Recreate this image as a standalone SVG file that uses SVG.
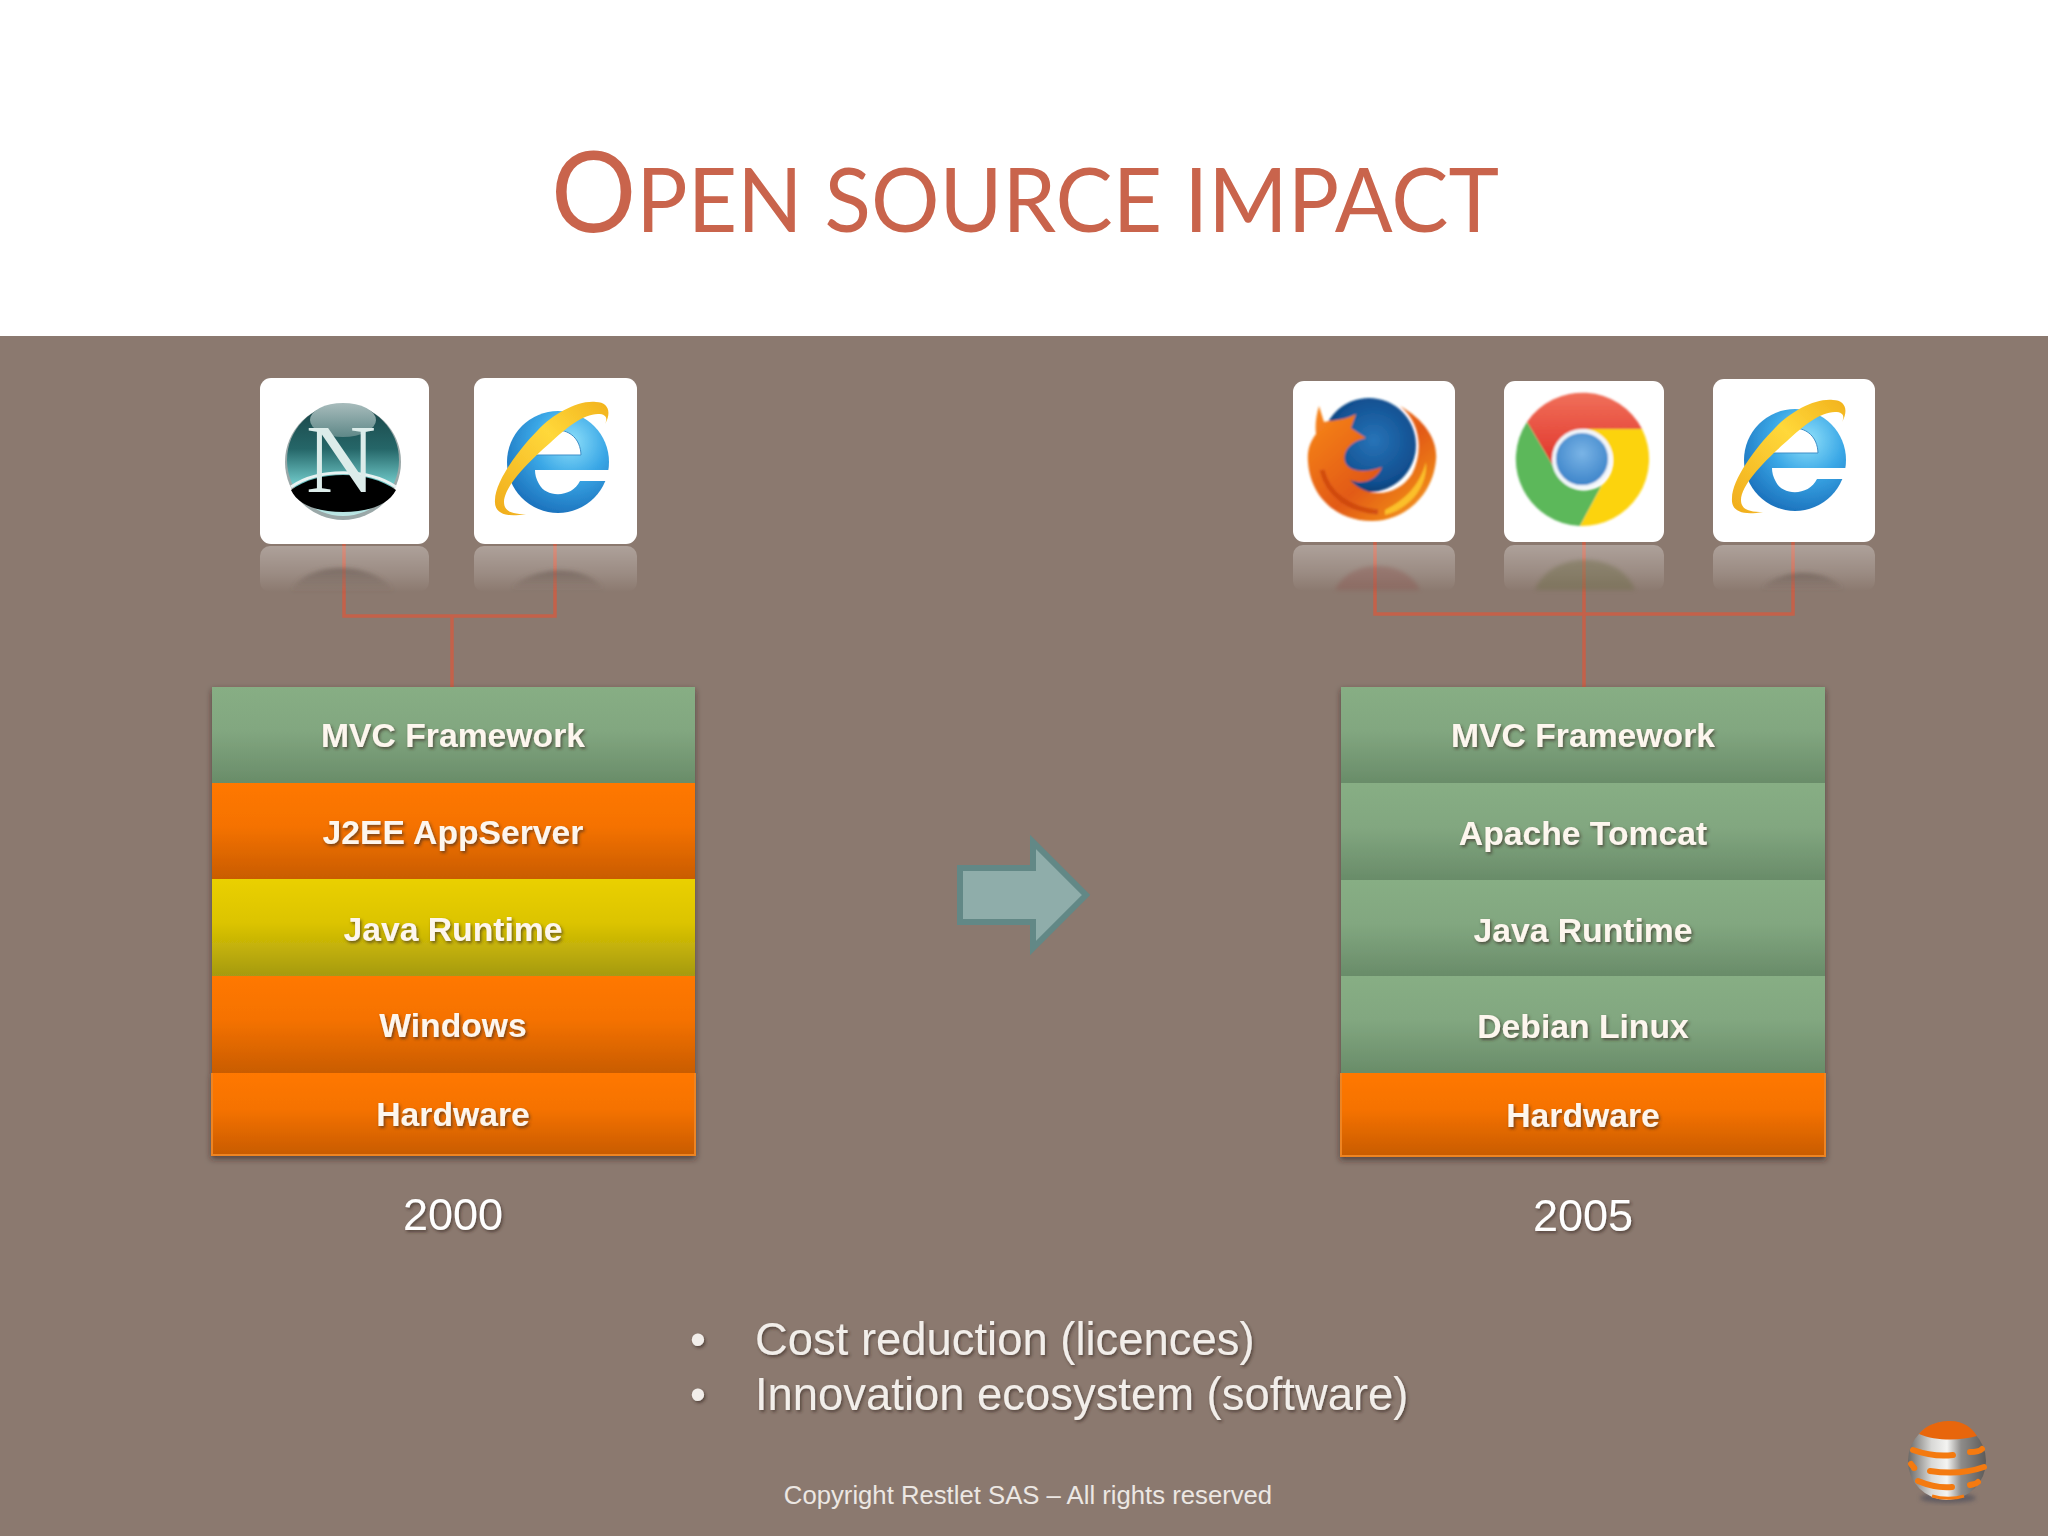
<svg xmlns="http://www.w3.org/2000/svg" xmlns:xlink="http://www.w3.org/1999/xlink" width="2048" height="1536" viewBox="0 0 2048 1536">
<style>
.row{font:bold 33.7px "Liberation Sans",Arial,sans-serif;fill:#fdf6ee;text-anchor:middle;filter:url(#ts)}
.year{font:45px "Liberation Sans",Arial,sans-serif;fill:#fff;text-anchor:middle;filter:url(#ts)}
.bul{font:45.4px "Liberation Sans",Arial,sans-serif;fill:#f2eeea;filter:url(#ts)}
.copy{font:25.7px "Liberation Sans",Arial,sans-serif;fill:#ece7e3;text-anchor:middle}
.title{font-family:Lato,"Open Sans",sans-serif;fill:#c9644c}
.conn{fill:none;stroke:#c4614a;stroke-width:3.500}
.card{fill:#fff}
.refl{fill:url(#rf)}
</style>
<defs>
<filter id="ts" x="-10%" y="-20%" width="120%" height="150%"><feDropShadow dx="1.5" dy="2" stdDeviation="1.5" flood-color="#3a2c22" flood-opacity=".65"/></filter>
<filter id="ss" x="-5%" y="-5%" width="110%" height="110%"><feDropShadow dx="0" dy="3" stdDeviation="3" flood-color="#2a201a" flood-opacity=".6"/></filter>
<filter id="bl" x="-30%" y="-50%" width="160%" height="200%"><feGaussianBlur stdDeviation="5"/></filter>
<filter id="b1" x="-10%" y="-10%" width="120%" height="120%"><feGaussianBlur stdDeviation="1"/></filter>
<filter id="b0" x="-10%" y="-10%" width="120%" height="120%"><feGaussianBlur stdDeviation=".6"/></filter>
<filter id="b2" x="-30%" y="-30%" width="160%" height="160%"><feGaussianBlur stdDeviation="2"/></filter>
<linearGradient id="rf" x1="0" y1="0" x2="0" y2="1"><stop offset="0" stop-color="#fff" stop-opacity=".3"/><stop offset=".6" stop-color="#fff" stop-opacity=".14"/><stop offset="1" stop-color="#fff" stop-opacity="0"/></linearGradient>
<linearGradient id="dome" x1="0" y1="0" x2="0" y2="1"><stop offset="0" stop-color="#5f5048" stop-opacity=".55"/><stop offset="1" stop-color="#5f5048" stop-opacity="0"/></linearGradient>
<linearGradient id="gr" x1="0" y1="0" x2="0" y2="1"><stop offset="0" stop-color="#87ae84"/><stop offset=".45" stop-color="#82a780"/><stop offset="1" stop-color="#698c69"/></linearGradient>
<linearGradient id="or" x1="0" y1="0" x2="0" y2="1"><stop offset="0" stop-color="#ff7800"/><stop offset=".45" stop-color="#f57200"/><stop offset="1" stop-color="#c95c02"/></linearGradient>
<linearGradient id="ye" x1="0" y1="0" x2="0" y2="1"><stop offset="0" stop-color="#ead000"/><stop offset=".45" stop-color="#dcc400"/><stop offset="1" stop-color="#a59a12"/></linearGradient>
<radialGradient id="ieb" cx=".62" cy=".3" r=".8"><stop offset="0" stop-color="#8fe0fa"/><stop offset=".45" stop-color="#3aa7e6"/><stop offset="1" stop-color="#1668b5"/></radialGradient>
<linearGradient id="iey" x1="1" y1="0" x2="0" y2="1"><stop offset="0" stop-color="#f2b21c"/><stop offset=".4" stop-color="#ffd83a"/><stop offset="1" stop-color="#f0ac1c"/></linearGradient>
<linearGradient id="nt" x1="0" y1="0" x2="0" y2="1"><stop offset="0" stop-color="#1a4446"/><stop offset=".4" stop-color="#256668"/><stop offset=".7" stop-color="#6cc4c4"/><stop offset="1" stop-color="#bfe8e6"/></linearGradient>
<linearGradient id="nb" x1="0" y1="0" x2="0" y2="1"><stop offset="0" stop-color="#a8bcbc"/><stop offset="1" stop-color="#5f8888"/></linearGradient>
<radialGradient id="ffg" cx=".55" cy=".45" r=".65"><stop offset="0" stop-color="#2874b8"/><stop offset=".7" stop-color="#114f90"/><stop offset="1" stop-color="#0b2f5c"/></radialGradient>
<linearGradient id="ffo" x1="0" y1="0" x2="1" y2="1"><stop offset="0" stop-color="#f98a1c"/><stop offset=".55" stop-color="#e25a14"/><stop offset="1" stop-color="#f7a21e"/></linearGradient>
<radialGradient id="cb" cx=".5" cy=".4" r=".6"><stop offset="0" stop-color="#7ab4e6"/><stop offset="1" stop-color="#3a82c8"/></radialGradient>
<linearGradient id="cr" x1="0" y1="0" x2="0" y2="1"><stop offset="0" stop-color="#f0705a"/><stop offset="1" stop-color="#e0332a"/></linearGradient>
<linearGradient id="sp" x1="0" y1="0" x2="1" y2="0"><stop offset="0" stop-color="#6a6866"/><stop offset=".3" stop-color="#d8d8d6"/><stop offset=".5" stop-color="#f4f4f2"/><stop offset=".68" stop-color="#8e8c8a"/><stop offset="1" stop-color="#5c5a58"/></linearGradient>
<symbol id="ie" overflow="visible" viewBox="-70 -70 140 140" width="140" height="140">
<circle cx="0" cy="0" r="51" fill="url(#ieb)"/>
<path d="M-23,-7 C-22,-40 22,-40 23,-7Z" fill="#fff" stroke="#3f8fc8" stroke-width="1"/>
<path d="M-23,8 H60 V19 H22 C14,36 -12,36 -19,22 C-22,17 -23,12 -23,8Z" fill="#fff"/>
<path d="M38,-60 C20,-62 -5,-48 -20,-32 C-40,-12 -63,20 -63,38 C-64,50 -55,56 -32,52 C-45,52 -54,50 -54,40 C-54,25 -30,0 -8,-19 C8,-34 25,-48 40,-48 C48,-48 50,-44 47,-38 C54,-50 50,-60 38,-60Z" fill="url(#iey)"/>
</symbol>
</defs>
<rect width="2048" height="1536" fill="#fff"/>
<rect y="336" width="2048" height="1200" fill="#8b796f"/>
<g id="title"><text class="title" x="551" y="232" font-size="112" textLength="948" lengthAdjust="spacingAndGlyphs">O<tspan font-size="90">PEN SOURCE IMPACT</tspan></text></g>

<g id="connectors">
<path class="conn" d="M344,544V616H555V544M452,616V687"/>
<path class="conn" d="M1375,542V614H1793V542M1584,542V687"/>
</g>

<g id="netscape">
<rect class="refl" x="260" y="546" width="169" height="46" rx="10"/>
<path d="M290,592 C305,560 375,560 395,592Z" fill="url(#dome)" filter="url(#b2)"/>
<rect class="card" x="260" y="378" width="169" height="166" rx="11"/>
<circle cx="343" cy="462" r="58" fill="#9aa8a8"/>
<circle cx="343" cy="460" r="56" fill="url(#nt)"/>
<ellipse cx="343" cy="420" rx="33" ry="17" fill="url(#nb)"/>
<path d="M291,490 C318,470 368,470 396,490 C388,506 366,512 343,512 C320,512 298,506 291,490Z" fill="#000"/>
<path d="M291,487 C318,468 368,468 396,487" fill="none" stroke="#e8f2f2" stroke-width="3"/>
<text x="341" y="492" font-family="Liberation Serif,serif" font-size="97" fill="#dcecea" text-anchor="middle">N</text>
</g>

<g id="ie-left">
<rect class="refl" x="474" y="546" width="163" height="46" rx="10"/>
<path d="M510,590 C525,568 585,560 605,590Z" fill="url(#dome)" filter="url(#b2)"/>
<rect class="card" x="474" y="378" width="163" height="166" rx="11"/>
<use xlink:href="#ie" href="#ie" x="488" y="392" filter="url(#b0)"/>
</g>

<g id="stack-2000" filter="url(#ss)">
<rect x="212" y="687" width="483" height="96" fill="url(#gr)"/>
<rect x="212" y="783" width="483" height="96" fill="url(#or)"/>
<rect x="212" y="879" width="483" height="97" fill="url(#ye)"/>
<rect x="212" y="976" width="483" height="97" fill="url(#or)"/>
<rect x="212" y="1073" width="483" height="81" fill="url(#or)"/>
<path d="M212,1073V1155H695V1073" fill="none" stroke="#ee8420" stroke-width="2"/>
</g>
<g id="stack-2000-labels">
<text class="row" x="453" y="747">MVC Framework</text>
<text class="row" x="453" y="844">J2EE AppServer</text>
<text class="row" x="453" y="941">Java Runtime</text>
<text class="row" x="453" y="1037">Windows</text>
<text class="row" x="453" y="1126">Hardware</text>
</g>
<text class="year" id="year-2000" x="453" y="1230">2000</text>

<g id="arrow"><path d="M960,868H1033V842L1086,895L1033,948V922H960Z" fill="#8fadaa" stroke="#628886" stroke-width="6"/></g>

<g id="firefox">
<rect class="refl" x="1293" y="545" width="162" height="46" rx="10"/>
<path d="M1335,590 C1350,558 1405,558 1420,590Z" fill="#8a5048" opacity=".35" filter="url(#b2)"/>
<rect class="card" x="1293" y="381" width="162" height="161" rx="11"/>
<g filter="url(#b1)">
<ellipse cx="1369" cy="445" rx="47" ry="47" fill="url(#ffg)"/>
<path d="M1319,406 L1324,422 C1334,420 1345,420 1356,414 L1351,428 L1366,438 C1352,441 1342,450 1345,462 C1350,474 1370,472 1382,467 C1378,478 1365,486 1350,480 C1368,500 1398,496 1412,474 C1424,450 1420,422 1400,406 C1425,420 1438,440 1436,460 C1433,495 1405,521 1372,521 C1335,521 1310,495 1308,462 C1307,450 1310,442 1316,434 C1315,425 1316,416 1319,406Z" fill="url(#ffo)"/>
<path d="M1385,510 C1405,500 1420,485 1426,462 C1428,485 1412,508 1385,515Z" fill="#fbc02a"/>
<path d="M1322,470 C1328,495 1350,510 1378,512" fill="none" stroke="#c8400f" stroke-width="5" opacity=".7"/>
</g>
</g>

<g id="chrome">
<rect class="refl" x="1504" y="545" width="160" height="46" rx="10"/>
<path d="M1535,590 C1550,550 1620,550 1635,590Z" fill="#6a6a42" opacity=".4" filter="url(#b2)"/>
<rect class="card" x="1504" y="381" width="160" height="161" rx="11"/>
<g filter="url(#b1)">
<path d="M1527,422 A67,67 0 0 1 1642,429 H1586 A32,32 0 0 0 1553,466Z" fill="url(#cr)"/>
<path d="M1527,422 L1553,466 A32,32 0 0 0 1602,485 L1580,526 A67,67 0 0 1 1527,422Z" fill="#5bb85a"/>
<path d="M1642,429 A67,67 0 0 1 1580,526 L1602,485 A32,32 0 0 0 1586,429Z" fill="#fcd30e"/>
<circle cx="1582" cy="459" r="28" fill="url(#cb)" stroke="#f2f6fa" stroke-width="4"/>
</g>
</g>

<g id="ie-right">
<rect class="refl" x="1713" y="545" width="162" height="46" rx="10"/>
<path d="M1760,590 C1775,570 1825,565 1845,590Z" fill="url(#dome)" filter="url(#b2)"/>
<rect class="card" x="1713" y="379" width="162" height="163" rx="11"/>
<use xlink:href="#ie" href="#ie" x="1725" y="390" filter="url(#b0)"/>
</g>

<g id="stack-2005" filter="url(#ss)">
<rect x="1341" y="687" width="484" height="96" fill="url(#gr)"/>
<rect x="1341" y="783" width="484" height="97" fill="url(#gr)"/>
<rect x="1341" y="880" width="484" height="96" fill="url(#gr)"/>
<rect x="1341" y="976" width="484" height="97" fill="url(#gr)"/>
<rect x="1341" y="1073" width="484" height="82" fill="url(#or)"/>
<path d="M1341,1073V1156H1825V1073" fill="none" stroke="#ee8420" stroke-width="2"/>
</g>
<g id="stack-2005-labels">
<text class="row" x="1583" y="747">MVC Framework</text>
<text class="row" x="1583" y="845">Apache Tomcat</text>
<text class="row" x="1583" y="942">Java Runtime</text>
<text class="row" x="1583" y="1038">Debian Linux</text>
<text class="row" x="1583" y="1127">Hardware</text>
</g>
<text class="year" id="year-2005" x="1583" y="1231">2005</text>

<g id="bullets">
<text class="bul" x="690" y="1355">•</text><text class="bul" x="755" y="1355">Cost reduction (licences)</text>
<text class="bul" x="690" y="1410">•</text><text class="bul" x="755" y="1410">Innovation ecosystem (software)</text>
</g>
<text class="copy" id="copyright" x="1028" y="1504">Copyright Restlet SAS – All rights reserved</text>

<g id="logo">
<ellipse cx="1948" cy="1498" rx="28" ry="5" fill="#50505c" opacity=".7" filter="url(#b2)"/>
<circle cx="1947" cy="1461" r="39" fill="url(#sp)"/>
<path d="M1919,1434 C1930,1420 1950,1421 1950,1421 C1964,1421 1972,1428 1977,1436 C1960,1441 1935,1441 1919,1434Z" fill="#e8660c"/>
<g fill="none" stroke="#f47a10" stroke-width="6" stroke-linecap="round">
<path d="M1913,1450 C1930,1456 1945,1456 1953,1455"/>
<path d="M1970,1452 C1976,1452 1980,1451 1982,1449"/>
<path d="M1911,1464 C1914,1468 1915,1468 1914,1468"/>
<path d="M1930,1471 C1950,1474 1970,1472 1984,1467"/>
<path d="M1918,1481 C1930,1486 1942,1488 1952,1487"/>
<path d="M1970,1485 C1974,1484 1976,1484 1978,1482"/>
</g>
<path d="M1932,1496 C1942,1499 1955,1499 1964,1496" fill="none" stroke="#f47a10" stroke-width="3"/>
</g>
</svg>
